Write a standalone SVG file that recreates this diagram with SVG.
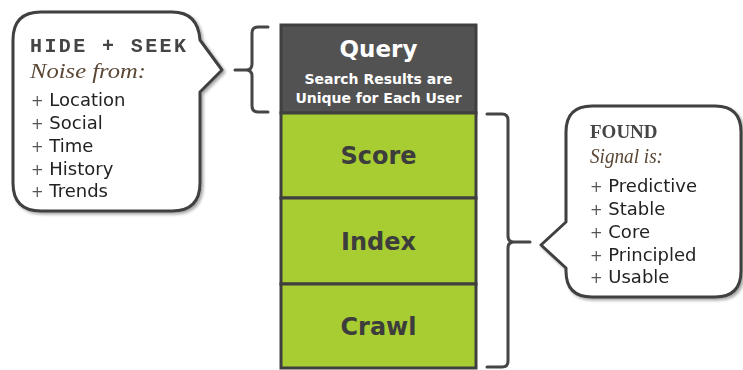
<svg xmlns="http://www.w3.org/2000/svg" width="743" height="370" viewBox="0 0 743 370">
<defs>
<filter id="sh" x="-10%" y="-10%" width="130%" height="130%">
<feGaussianBlur in="SourceAlpha" stdDeviation="1.5"/>
<feOffset dx="2" dy="2" result="b"/>
<feComponentTransfer><feFuncA type="linear" slope="0.35"/></feComponentTransfer>
<feMerge><feMergeNode/><feMergeNode in="SourceGraphic"/></feMerge>
</filter>
</defs>
<style>
.bub{fill:#fff;stroke:#3f3f3f;stroke-width:3;stroke-linejoin:round}
.br{fill:none;stroke:#454545;stroke-width:3;stroke-linejoin:round;stroke-linecap:round}
.cell{fill:#a8cd32;stroke:#3f3f3f;stroke-width:3}
.q{fill:#525252;stroke:#3f3f3f;stroke-width:3}
.lbl{font-family:"DejaVu Sans",Verdana,sans-serif;font-weight:bold;font-size:24px;fill:#3d3d3d;text-anchor:middle}
.qt{font-family:"DejaVu Sans",Verdana,sans-serif;font-weight:bold;fill:#fff;text-anchor:middle}
.hd{font-family:"Liberation Mono","Courier New",monospace;font-weight:bold;font-size:20px;fill:#444}
.hd2{font-family:"Liberation Serif","Times New Roman",serif;font-weight:bold;font-size:19px;fill:#444}
.sc{font-family:"Liberation Serif","Times New Roman",serif;font-style:italic;font-size:20px;fill:#5a4634}
.li{font-family:"DejaVu Sans",Verdana,sans-serif;font-size:18px;fill:#222}
.pl{font-size:15px;fill:#555}
</style>
<g id="connectors">
<path class="br" d="M268,27 L258,27 Q252,27 252,33 L252,64 Q252,70 246,70 L235,70 M246,70 Q252,70 252,76 L252,106 Q252,112 258,112 L268,112"/>
<path class="br" d="M487,114 L502,114 Q508,114 508,120 L508,236 Q508,242 514,242 L530,242 M514,242 Q508,242 508,248 L508,361 Q508,367 502,367 L487,367"/>
</g>
<g id="hide-seek" filter="url(#sh)">
<path class="bub" d="M41,12 L172,12 Q198,12 200,40 L222,70 L200,92 L200,183 Q200,211 172,211 L41,211 Q13,211 13,183 L13,40 Q13,12 41,12 Z"/>
<text class="hd" x="30" y="52" letter-spacing="2.4">HIDE + SEEK</text>
<text class="sc" x="30" y="78" textLength="116" lengthAdjust="spacingAndGlyphs">Noise from:</text>
<text class="li" x="31" y="106"><tspan class="pl">+</tspan> Location</text>
<text class="li" x="31" y="129"><tspan class="pl">+</tspan> Social</text>
<text class="li" x="31" y="152"><tspan class="pl">+</tspan> Time</text>
<text class="li" x="31" y="175"><tspan class="pl">+</tspan> History</text>
<text class="li" x="31" y="197"><tspan class="pl">+</tspan> Trends</text>
</g>
<g id="query">
<rect class="q" x="281" y="25" width="195" height="88"/>
<text class="qt" x="378.5" y="57" font-size="23">Query</text>
<text class="qt" x="378.5" y="84" font-size="14">Search Results are</text>
<text class="qt" x="378.5" y="103" font-size="14">Unique for Each User</text>
</g>
<g id="score">
<rect class="cell" x="281" y="113" width="195" height="85"/>
<text class="lbl" x="378.5" y="164">Score</text>
</g>
<g id="index">
<rect class="cell" x="281" y="198" width="195" height="86"/>
<text class="lbl" x="378.5" y="250">Index</text>
</g>
<g id="crawl">
<rect class="cell" x="281" y="284" width="195" height="84"/>
<text class="lbl" x="378.5" y="335">Crawl</text>
</g>
<g id="found" filter="url(#sh)">
<path class="bub" d="M592,106 L715,106 Q741,106 741,132 L741,271 Q741,297 715,297 L592,297 Q566,297 566,271 L566,268 L541,245 L566,222 L566,132 Q566,106 592,106 Z"/>
<text class="hd2" x="590" y="138">FOUND</text>
<text class="sc" x="590" y="163" textLength="73" lengthAdjust="spacingAndGlyphs">Signal is:</text>
<text class="li" x="590" y="192"><tspan class="pl">+</tspan> Predictive</text>
<text class="li" x="590" y="215"><tspan class="pl">+</tspan> Stable</text>
<text class="li" x="590" y="238"><tspan class="pl">+</tspan> Core</text>
<text class="li" x="590" y="261"><tspan class="pl">+</tspan> Principled</text>
<text class="li" x="590" y="283"><tspan class="pl">+</tspan> Usable</text>
</g>
</svg>
